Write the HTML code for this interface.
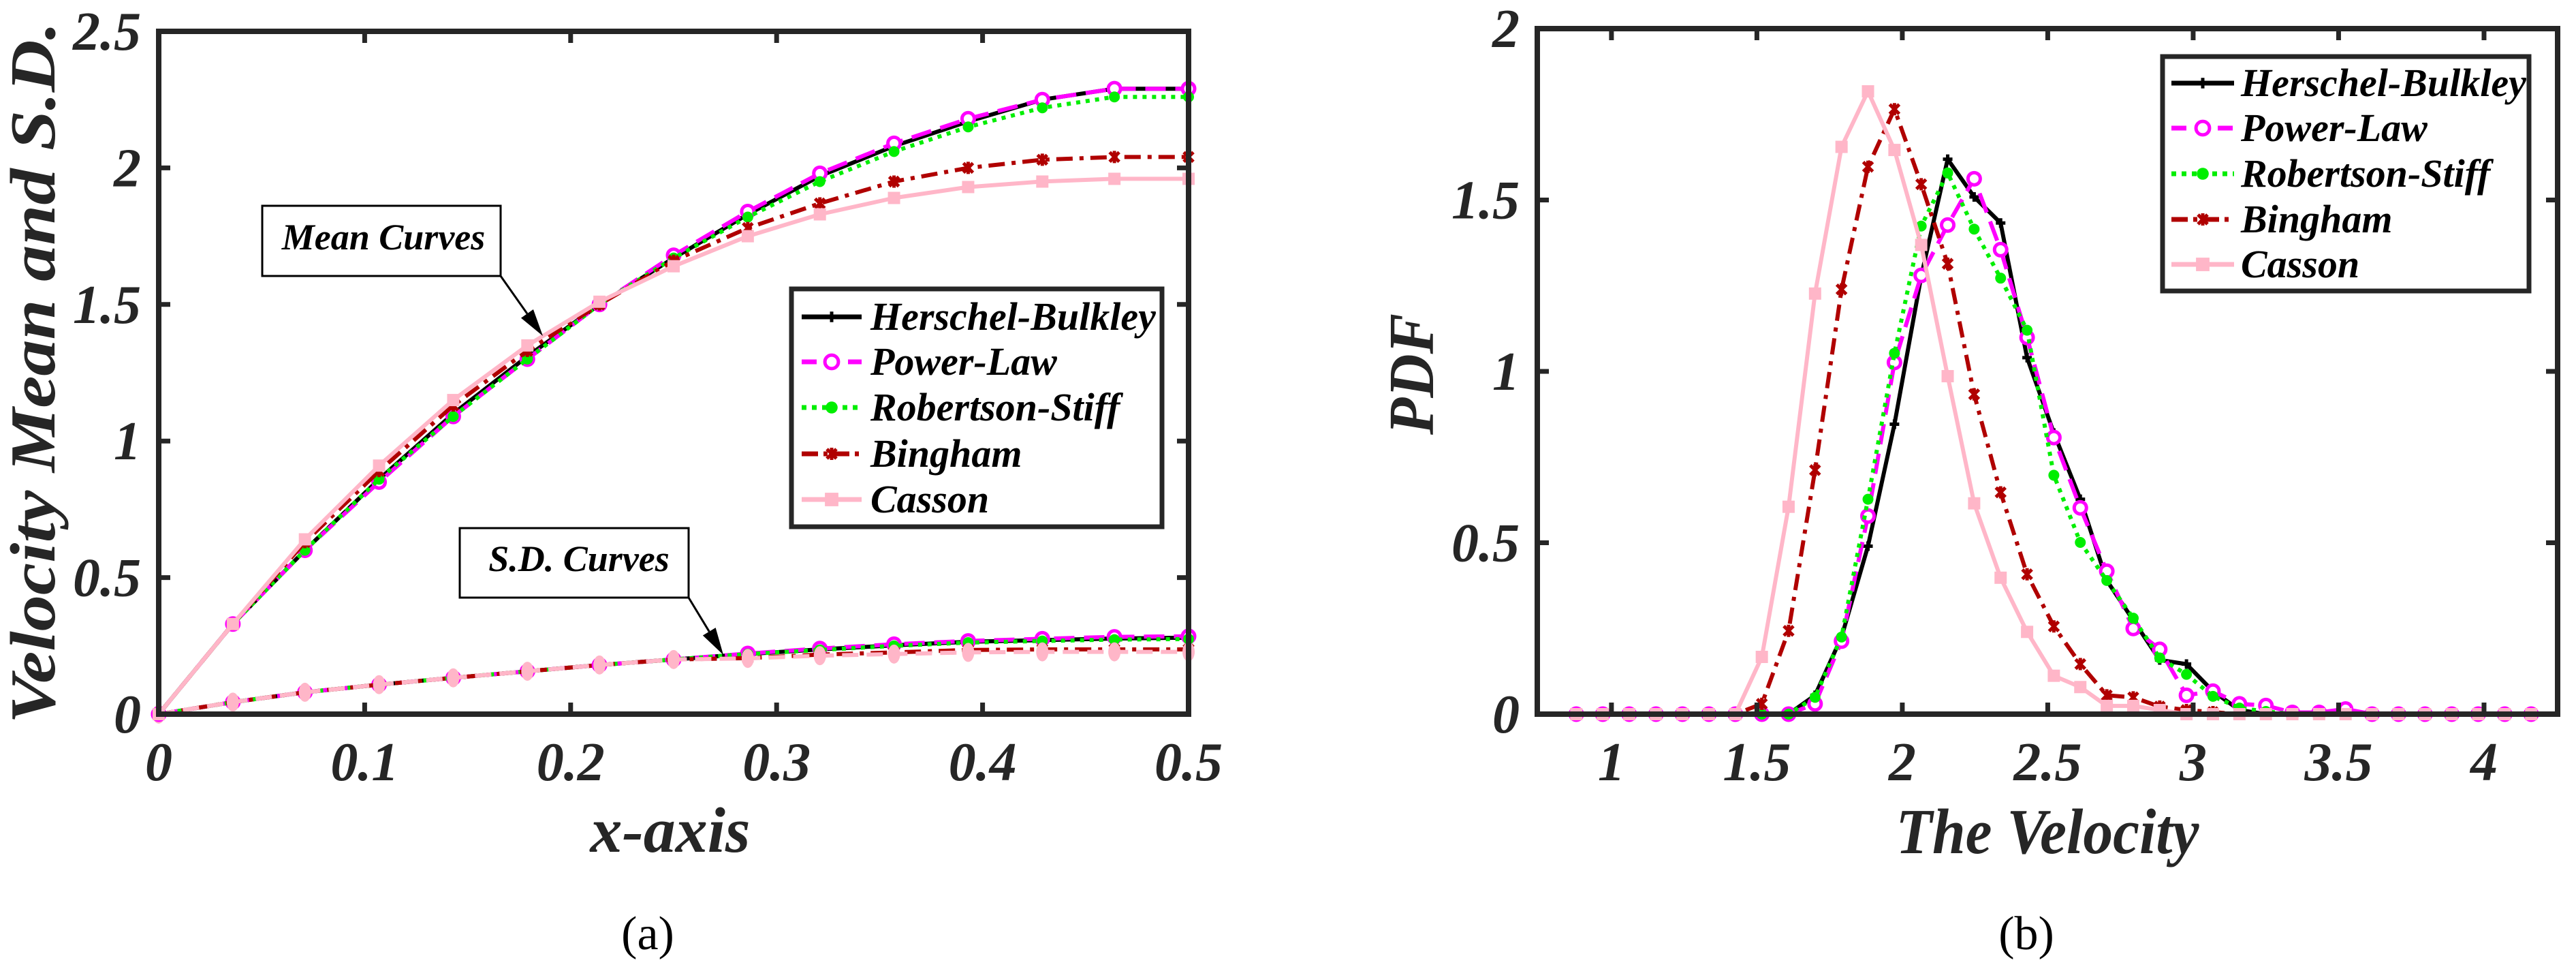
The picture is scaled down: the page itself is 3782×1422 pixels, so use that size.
<!DOCTYPE html>
<html><head><meta charset="utf-8"><style>
html,body{margin:0;padding:0;background:#fff;}
svg{display:block;}
</style></head><body>
<svg id="fig" width="3782" height="1422" viewBox="0 0 3782 1422" xmlns="http://www.w3.org/2000/svg"></svg>
<script>
// ---------- Panel (a) data ----------
const xA = [0,0.036,0.071,0.107,0.143,0.179,0.214,0.25,0.286,0.321,0.357,0.393,0.429,0.464,0.5];
const meanHB = [0,0.33,0.60,0.86,1.10,1.31,1.50,1.67,1.83,1.97,2.08,2.17,2.25,2.29,2.29];
const meanPL = [0,0.33,0.60,0.85,1.09,1.30,1.50,1.68,1.84,1.98,2.09,2.18,2.25,2.29,2.29];
const meanRS = [0,0.33,0.60,0.86,1.09,1.30,1.50,1.67,1.82,1.95,2.06,2.15,2.22,2.26,2.26];
const meanBI = [0,0.33,0.63,0.89,1.13,1.33,1.50,1.66,1.78,1.87,1.95,2.00,2.03,2.04,2.04];
const meanCA = [0,0.33,0.64,0.91,1.15,1.35,1.51,1.64,1.75,1.83,1.89,1.93,1.95,1.96,1.96];
const sdHB = [0,0.044,0.08,0.108,0.133,0.157,0.18,0.20,0.22,0.237,0.252,0.265,0.271,0.277,0.28];
const sdPL = [0,0.044,0.08,0.108,0.133,0.157,0.18,0.20,0.222,0.24,0.256,0.268,0.276,0.283,0.285];
const sdRS = [0,0.044,0.08,0.108,0.133,0.157,0.18,0.20,0.22,0.235,0.25,0.262,0.268,0.273,0.275];
const sdBI = [0,0.044,0.08,0.108,0.133,0.157,0.18,0.20,0.205,0.218,0.226,0.235,0.237,0.237,0.237];
const sdCA = [0,0.044,0.08,0.108,0.133,0.157,0.18,0.20,0.204,0.214,0.22,0.226,0.228,0.228,0.228];
const xTicksA = [0,0.1,0.2,0.3,0.4,0.5];
const xTickLabelsA = ["0","0.1","0.2","0.3","0.4","0.5"];
const yTicksA = [0,0.5,1,1.5,2,2.5];
const yTickLabelsA = ["0","0.5","1","1.5","2","2.5"];

// ---------- Panel (b) data ----------
const xB = [0.879,0.970,1.061,1.153,1.244,1.335,1.426,1.517,1.609,1.700,1.791,1.882,1.973,2.065,2.156,2.247,2.338,2.429,2.521,2.612,2.703,2.794,2.885,2.977,3.068,3.159,3.250,3.341,3.433,3.524,3.615,3.706,3.797,3.889,3.980,4.071,4.162];
const pdfHB = [0,0,0,0,0,0,0,0,0,0.055,0.225,0.49,0.846,1.278,1.619,1.509,1.433,1.04,0.82,0.627,0.39,0.274,0.158,0.146,0.067,0.012,0,0,0,0,0,0,0,0,0,0,0];
const pdfPL = [0,0,0,0,0,0,0,0,0,0.03,0.213,0.578,1.026,1.28,1.427,1.562,1.355,1.099,0.807,0.602,0.417,0.25,0.189,0.055,0.067,0.03,0.025,0.005,0.005,0.015,0,0,0,0,0,0,0];
const pdfRS = [0,0,0,0,0,0,0,0,0,0.049,0.225,0.627,1.053,1.424,1.579,1.415,1.272,1.12,0.697,0.501,0.39,0.28,0.164,0.116,0.052,0.018,0.008,0,0,0,0,0,0,0,0,0,0];
const pdfBI = [0,0,0,0,0,0,0,0.03,0.243,0.712,1.239,1.597,1.765,1.546,1.314,0.933,0.647,0.408,0.256,0.146,0.055,0.049,0.022,0.012,0.006,0,0,0,0,0,0,0,0,0,0,0,0];
const pdfCA = [0,0,0,0,0,0,0,0.167,0.605,1.227,1.655,1.817,1.646,1.369,0.986,0.615,0.398,0.24,0.112,0.079,0.024,0.024,0.012,0,0,0,0,0,0,0,0,0,0,0,0,0,0];
const xTicksB = [1,1.5,2,2.5,3,3.5,4];
const xTickLabelsB = ["1","1.5","2","2.5","3","3.5","4"];
const yTicksB = [0,0.5,1,1.5,2];
const yTickLabelsB = ["0","0.5","1","1.5","2"];
const seriesNames = ["Herschel-Bulkley","Power-Law","Robertson-Stiff","Bingham","Casson"];

const NS = "http://www.w3.org/2000/svg";
const svg = document.getElementById('fig');
const FONT = '"Liberation Serif", "Times New Roman", Times, "DejaVu Serif", serif';
function el(tag, attrs, parent){
  const e = document.createElementNS(NS, tag);
  for (const k in attrs) e.setAttribute(k, attrs[k]);
  (parent||svg).appendChild(e);
  return e;
}
const AX = "#262626";
const styles = [
  {color:"#000000", dash:"none", marker:"plus"},
  {color:"#ff00ff", dash:"30 14", marker:"ocircle"},
  {color:"#00ee00", dash:"6 8", marker:"dot"},
  {color:"#b00000", dash:"24 10 6 10", marker:"star"},
  {color:"#ffb6c8", dash:"none", marker:"square"}
];

function marker(g, kind, x, y, color, sc){
  sc = sc||1;
  let m;
  if (kind==="plus"){
    m = el('path',{d:`M${x-7*sc},${y}H${x+7*sc}M${x},${y-7*sc}V${y+7*sc}`,stroke:color,'stroke-width':5,fill:'none'},g);
  } else if (kind==="ocircle"){
    m = el('circle',{cx:x,cy:y,r:9*sc,fill:'#fff',stroke:color,'stroke-width':5},g);
  } else if (kind==="dot"){
    m = el('circle',{cx:x,cy:y,r:8*sc,fill:color},g);
  } else if (kind==="star"){
    m = el('path',{d:`M${x-7},${y-7}L${x+7},${y+7}M${x-7},${y+7}L${x+7},${y-7}M${x},${y-9}V${y+9}`,stroke:color,'stroke-width':5,fill:'none'},g);
  } else if (kind==="pcircle"){
    m = el('ellipse',{cx:x,cy:y,rx:9,ry:14,fill:color},g);
  } else {
    m = el('rect',{x:x-9*sc,y:y-9*sc,width:18*sc,height:18*sc,fill:color},g);
  }
  
  
}

function series(g, xs, ys, sx, sy, st, name, mk){
  const pts = xs.map((v,i)=>sx(v).toFixed(1)+","+sy(ys[i]).toFixed(1)).join(" ");
  const line = el('polyline',{points:pts,fill:'none',stroke:st.color,'stroke-width':6,'stroke-dasharray':st.dash,'stroke-linejoin':'round'},g);
  
  
  xs.forEach((v,i)=>marker(g, mk||st.marker, sx(v), sy(ys[i]), st.color));
}

function txt(parent, x, y, s, size, opts){
  opts = opts||{};
  const t = el('text',{x:x,y:y,'font-family':FONT,'font-size':size,'font-weight':opts.normal?'normal':'bold','font-style':opts.normal?'normal':'italic','text-anchor':opts.anchor||'start',fill:opts.fill||AX},parent);
  if (opts.rot) t.setAttribute('transform',`rotate(-90 ${x} ${y})`);
  if (opts.len) { t.setAttribute('textLength',opts.len); t.setAttribute('lengthAdjust','spacingAndGlyphs'); }
  t.textContent = s;
  return t;
}

function axesBox(g, L, R, T, B, xt, xl, yt, yl, sx, sy){
  xt.forEach((v,i)=>{
    const x = sx(v);
    const tk = el('path',{d:`M${x},${B}V${B-17}M${x},${T}V${T+17}`,stroke:AX,'stroke-width':7},g);
    
    
    const lb = txt(g, x, 1145, xl[i], 80, {anchor:'middle'});
    
    
  });
  yt.forEach((v,i)=>{
    const y = sy(v);
    const tk = el('path',{d:`M${L},${y}H${L+17}M${R},${y}H${R-17}`,stroke:AX,'stroke-width':7},g);
    
    
    const lb = txt(g, L-26, y+27, yl[i], 80, {anchor:'end'});
    
    
  });
  const box = el('rect',{x:L,y:T,width:R-L,height:B-T,fill:'none',stroke:AX,'stroke-width':8},g);
  
  
}

function legend(g, x0, y0, x1, y1, rows, lx0, lx1, tx){
  const lg = el('g',{},g);
  
  
  el('rect',{x:x0,y:y0,width:x1-x0,height:y1-y0,fill:'#fff',stroke:AX,'stroke-width':7},lg);
  rows.forEach((y,i)=>{
    const st = styles[i];
    const e = el('g',{},lg);
    
    
    el('line',{x1:lx0,y1:y,x2:lx1,y2:y,stroke:st.color,'stroke-width':7,'stroke-dasharray':st.dash==="none"?"none":(i===2?"7 8":(i===1?"22 12":"24 8 6 8"))},e);
    marker(e, st.marker, (lx0+lx1)/2, y, st.color, 1.1);
    const t = txt(e, tx, y+19, seriesNames[i], 58, {fill:'#000'});
    
    
  });
}

// ================= Panel (a) =================
const LA=233, RA=1745, TA=46, BA=1048;
const sxA = v => LA + v/0.5*(RA-LA);
const syA = v => BA - v/2.5*(BA-TA);
const gA = el('g',{});


const plotA = el('g',{},gA);


series(plotA, xA, sdHB, sxA, syA, styles[0], 'sd-herschel-bulkley');
series(plotA, xA, sdPL, sxA, syA, styles[1], 'sd-power-law');
series(plotA, xA, sdRS, sxA, syA, styles[2], 'sd-robertson-stiff');
series(plotA, xA, sdBI, sxA, syA, styles[3], 'sd-bingham');
series(plotA, xA, sdCA, sxA, syA, {color:"#ffb6c8",dash:"24 12"}, 'sd-casson', 'pcircle');
series(plotA, xA, meanHB, sxA, syA, styles[0], 'mean-herschel-bulkley');
series(plotA, xA, meanPL, sxA, syA, styles[1], 'mean-power-law');
series(plotA, xA, meanRS, sxA, syA, styles[2], 'mean-robertson-stiff');
series(plotA, xA, meanBI, sxA, syA, styles[3], 'mean-bingham');
series(plotA, xA, meanCA, sxA, syA, styles[4], 'mean-casson');
axesBox(gA, LA, RA, TA, BA, xTicksA, xTickLabelsA, yTicksA, yTickLabelsA, sxA, syA);
legend(gA, 1162, 424, 1706, 773, [465,531,598,666,733], 1177, 1265, 1278);

function annot(x0,y0,x1,y1,label,tcx,tby,ax,ay){
  const g = el('g',{},gA);
  
  
  el('rect',{x:x0,y:y0,width:x1-x0,height:y1-y0,fill:'#fff',stroke:'#000','stroke-width':3},g);
  txt(g, tcx, tby, label, 54, {anchor:'middle',fill:'#000'});
  const dx = ax-x1, dy = ay-y1, L = Math.hypot(dx,dy), ux = dx/L, uy = dy/L;
  const bx = ax-ux*40, by = ay-uy*40;
  el('line',{x1:x1,y1:y1,x2:bx,y2:by,stroke:'#000','stroke-width':3},g);
  el('polygon',{points:`${ax},${ay} ${bx-uy*11},${by+ux*11} ${bx+uy*11},${by-ux*11}`,fill:'#000'},g);
}
annot(385,302,735,405,'Mean Curves',563,366,797,493);
annot(675,775,1011,877,'S.D. Curves',850,838,1062,961);

let t;
t = txt(gA, 80, 547, 'Velocity Mean and S.D.', 94, {anchor:'middle',rot:true,len:1030});


t = txt(gA, 984, 1250, 'x-axis', 94, {anchor:'middle'});


t = txt(gA, 951, 1393, '(a)', 70, {anchor:'middle',normal:true,fill:'#000'});



// ================= Panel (b) =================
const LB=2257, RB=3755, TB=42, BB=1048;
const XMIN=0.745, XMAX=4.253;
const sxB = v => LB + (v-XMIN)/(XMAX-XMIN)*(RB-LB);
const syB = v => BB - v/2*(BB-TB);
const gB = el('g',{});


const plotB = el('g',{},gB);


series(plotB, xB, pdfHB, sxB, syB, styles[0], 'pdf-herschel-bulkley');
series(plotB, xB, pdfPL, sxB, syB, styles[1], 'pdf-power-law');
series(plotB, xB, pdfRS, sxB, syB, styles[2], 'pdf-robertson-stiff');
series(plotB, xB, pdfBI, sxB, syB, styles[3], 'pdf-bingham');
series(plotB, xB, pdfCA, sxB, syB, styles[4], 'pdf-casson');
axesBox(gB, LB, RB, TB, BB, xTicksB, xTickLabelsB, yTicksB, yTickLabelsB, sxB, syB);
legend(gB, 3175, 83, 3713, 427, [122,188,255,322,388], 3188, 3280, 3290);

t = txt(gB, 2104, 549, 'PDF', 94, {anchor:'middle',rot:true,len:178});


t = txt(gB, 3006, 1252, 'The Velocity', 94, {anchor:'middle',len:445});


t = txt(gB, 2975, 1393, '(b)', 70, {anchor:'middle',normal:true,fill:'#000'});


</script>
</body></html>
